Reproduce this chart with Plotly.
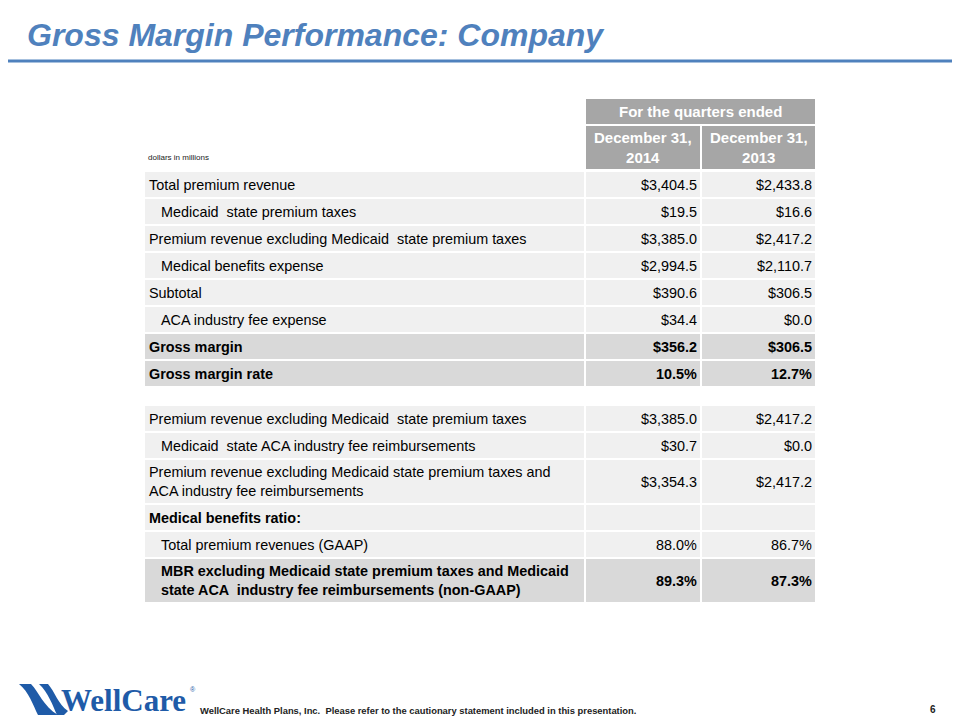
import plotly.graph_objects as go

# ---------------- data ----------------
title_text = "Gross Margin Performance: Company"
group_header = "For the quarters ended"
period_headers = ["December 31,<br>2014", "December 31,<br>2013"]
unit_note = "dollars in millions"

row_labels = [
    "Total premium revenue",
    "Medicaid  state premium taxes",
    "Premium revenue excluding Medicaid  state premium taxes",
    "Medical benefits expense",
    "Subtotal",
    "ACA industry fee expense",
    "Gross margin",
    "Gross margin rate",
    "",
    "Premium revenue excluding Medicaid  state premium taxes",
    "Medicaid  state ACA industry fee reimbursements",
    "Premium revenue excluding Medicaid state premium taxes and<br>ACA industry fee reimbursements",
    "Medical benefits ratio:",
    "Total premium revenues (GAAP)",
    "MBR excluding Medicaid state premium taxes and Medicaid<br>state ACA  industry fee reimbursements (non-GAAP)",
]
values_2014 = [3404.5, 19.5, 3385.0, 2994.5, 390.6, 34.4, 356.2, 10.5, None,
               3385.0, 30.7, 3354.3, None, 88.0, 89.3]
values_2013 = [2433.8, 16.6, 2417.2, 2110.7, 306.5, 0.0, 306.5, 12.7, None,
               2417.2, 0.0, 2417.2, None, 86.7, 87.3]
value_kind = ["usd", "usd", "usd", "usd", "usd", "usd", "usd", "pct", None,
              "usd", "usd", "usd", None, "pct", "pct"]

footer_text = "WellCare Health Plans, Inc.  Please refer to the cautionary statement included in this presentation."
page_number = "6"
brand = "WellCare"

# ---------------- styles ----------------
row_indent = [0, 1, 0, 1, 0, 1, 0, 0, 0, 0, 1, 0, 0, 1, 1]
row_bold = [0, 0, 0, 0, 0, 0, 1, 1, 0, 0, 0, 0, 1, 0, 1]
row_dark = [0, 0, 0, 0, 0, 0, 1, 1, 0, 0, 0, 0, 0, 0, 1]
row_spacer = [0, 0, 0, 0, 0, 0, 0, 0, 1, 0, 0, 0, 0, 0, 0]

BLUE = "#4f81bd"
HEAD_GRAY = "#a6a6a6"
LIGHT = "#f0f0f0"
DARK = "#d9d9d9"
FONT = "Liberation Sans, Arial, sans-serif"
FS = 14.4

W, H = 960, 720
OFF = 8  # page margin the browser adds around the figure
col_x = [(145, 584), (586, 700), (702, 815)]
ROW_H1, ROW_H2, SPACER_H, GAP = 25, 43, 16, 2
DATA_TOP = 172


def fmt(v, kind):
    if v is None:
        return ""
    if kind == "usd":
        return "$" + format(v, ",.1f")
    return format(v, ".1f") + "%"


shapes, annots = [], []


def rect(x0, y0, x1, y1, color):
    shapes.append(dict(type="rect", xref="x", yref="y", x0=x0, x1=x1, y0=y0, y1=y1,
                       fillcolor=color, line=dict(width=0), layer="below"))


def text(x, y, s, size=FS, color="#000000", xanchor="left", family=FONT):
    annots.append(dict(x=x, y=y, xref="x", yref="y", text=s, showarrow=False,
                       xanchor=xanchor, yanchor="middle",
                       align="center" if xanchor == "center" else xanchor,
                       font=dict(size=size, color=color, family=family)))


# title + rule
text(25, 35, "<b><i>" + title_text + "</i></b>", size=32, color=BLUE)
shapes.append(dict(type="line", xref="x", yref="y", x0=0, x1=W, y0=61, y1=61,
                   line=dict(color=BLUE, width=3)))

# header
rect(col_x[1][0], 99, col_x[2][1], 124, HEAD_GRAY)
text((col_x[1][0] + col_x[2][1]) / 2, 111.5, "<b>" + group_header + "</b>", size=15,
     color="white", xanchor="center")
for (x0, x1), h in zip(col_x[1:], period_headers):
    rect(x0, 126, x1, 169, HEAD_GRAY)
    text((x0 + x1) / 2, 147.5, "<b>" + h + "</b>", size=15, color="white", xanchor="center")
text(146, 157, unit_note, size=8, color="#222222")

# body
y = DATA_TOP
for i, lab in enumerate(row_labels):
    if row_spacer[i]:
        y += SPACER_H + GAP
        continue
    h = ROW_H2 if "<br>" in lab else ROW_H1
    fill = DARK if row_dark[i] else LIGHT
    for (x0, x1) in col_x:
        rect(x0, y, x1, y + h, fill)
    cy = y + h / 2
    b0, b1 = ("<b>", "</b>") if row_bold[i] else ("", "")
    lx = col_x[0][0] + 2 + (12 if row_indent[i] else 0)
    text(lx, cy, b0 + lab + b1)
    for (x0, x1), vals in zip(col_x[1:], (values_2014, values_2013)):
        s = fmt(vals[i], value_kind[i])
        if s:
            text(x1 - 1, cy, b0 + s + b1, xanchor="right")
    y += h + GAP

# logo
LOGO = "#1f5ba8"
shapes.append(dict(type="path", xref="x", yref="y", fillcolor=LOGO, line=dict(width=0),
                   path="M 19,684 L 31,684 C 39,692 43,706 58,715 L 38,715 C 33,705 29,692 19,684 Z"))
shapes.append(dict(type="path", xref="x", yref="y", fillcolor=LOGO, line=dict(width=0),
                   path="M 39,684 L 48,684 C 55,692 58,704 68,711 L 64,715 L 57,715 C 53,706 48,692 39,684 Z"))
text(59, 700, "<b>" + brand + "</b>", size=31, color=LOGO,
     family="Liberation Serif, Times New Roman, serif")
text(188, 689, "®", size=7, color=LOGO, family=FONT)

# footer
text(198, 710, "<b>" + footer_text + "</b>", size=9.4, color="#222222",
     family="Liberation Sans Narrow, Liberation Sans, Arial, sans-serif")
text(933, 709, "<b>" + page_number + "</b>", size=10, color="#222222", xanchor="center")

fig = go.Figure()
fig.update_layout(
    width=W, height=H, margin=dict(l=0, r=0, t=0, b=0),
    paper_bgcolor="white", plot_bgcolor="white", showlegend=False,
    xaxis=dict(range=[OFF, W + OFF], visible=False, fixedrange=True),
    yaxis=dict(range=[H + OFF, OFF], visible=False, fixedrange=True),
    shapes=shapes, annotations=annots,
)
fig.write_html("out.html")
